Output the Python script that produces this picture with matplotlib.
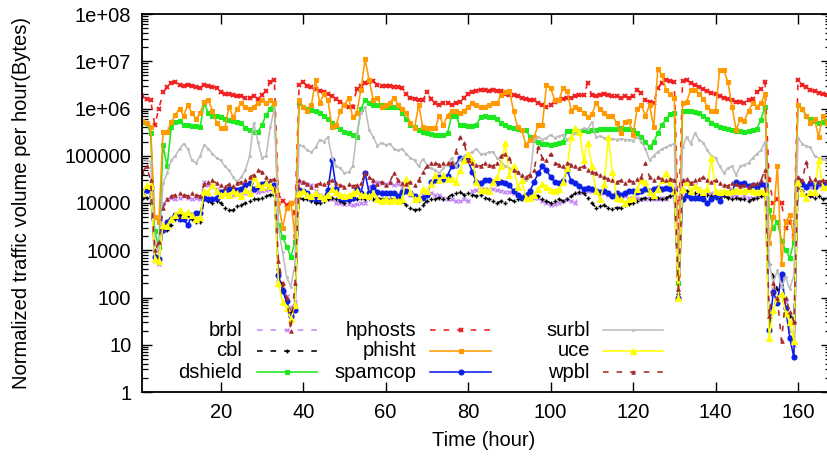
import matplotlib
matplotlib.use("Agg")
import matplotlib.pyplot as plt
from matplotlib.lines import Line2D
from matplotlib.ticker import LogLocator, FixedLocator, NullFormatter

plt.rcParams['font.family'] = ['Liberation Sans', 'DejaVu Sans']

hours = list(range(1, 168))

brbl = [
    1.8e4, 1.7e4, 1.5e4, 6.0e2, 5.2e2, 1.0e4, 1.2e4, 1.3e4, 1.2e4, 1.3e4,
    1.4e4, 1.3e4, 1.2e4, 1.3e4, 1.2e4, 2.8e4, 2.4e4, 2.2e4, 2.0e4, 1.8e4,
    1.6e4, 1.5e4, 1.5e4, 1.6e4, 1.5e4, 1.6e4, 1.7e4, 1.8e4, 1.7e4, 1.8e4,
    1.9e4, 2.0e4, 1.8e4, 2.5e2, 1.5e2, 1.1e2, 6.0e1, 8.0e1, 2.8e4, 2.8e4,
    2.5e4, 2.4e4, 1.8e4, 1.5e4, 1.3e4, 1.2e4, 1.2e4, 1.0e4, 1.0e4, 9.5e3,
    9.5e3, 9.0e3, 9.5e3, 1.0e4, 1.0e4, 2.2e4, 2.6e4, 2.8e4, 2.6e4, 2.5e4,
    2.6e4, 2.4e4, 2.5e4, 2.2e4, 1.7e4, 1.5e4, 1.4e4, 1.3e4, 1.5e4, 1.6e4,
    1.6e4, 1.5e4, 1.5e4, 1.3e4, 1.2e4, 1.2e4, 1.1e4, 1.1e4, 1.2e4, 1.1e4,
    1.8e4, 1.9e4, 2.0e4, 2.0e4, 1.9e4, 2.0e4, 1.9e4, 1.8e4, 1.7e4, 1.7e4,
    1.6e4, 1.5e4, 1.4e4, 1.4e4, 1.3e4, 1.3e4, 1.3e4, 1.1e4, 1.0e4, 9.0e3,
    9.5e3, 1.0e4, 1.1e4, 1.2e4, 1.1e4, 1.0e4, 1.6e4, 1.7e4, 1.8e4, 1.8e4,
    1.7e4, 1.8e4, 1.6e4, 1.5e4, 1.4e4, 1.4e4, 1.3e4, 1.4e4, 1.3e4, 1.3e4,
    1.3e4, 1.2e4, 1.2e4, 1.3e4, 1.2e4, 1.2e4, 1.3e4, 1.2e4, 1.4e4, 1.6e4,
    1.3e2, 3.0e4, 2.8e4, 2.6e4, 2.4e4, 2.0e4, 1.7e4, 1.6e4, 1.6e4, 1.5e4,
    1.5e4, 1.6e4, 1.5e4, 1.4e4, 1.4e4, 1.3e4, 1.4e4, 1.3e4, 1.3e4, 1.4e4,
    1.5e4, 1.6e4, 4.0e1, 1.5e2, 1.0e2, 2.5e2, 8.0e1, 2.0e1, 1.0e1, 3.0e4,
    2.6e4, 2.4e4, 2.2e4, 2.5e4, 2.3e4, 2.4e4, 2.2e4,
]

cbl = [
    1.2e4, 1.3e4, 1.4e4, 8.0e2, 7.0e2, 3.0e3, 2.7e3, 3.5e3, 4.5e3, 5.5e3,
    5.0e3, 5.5e3, 4.5e3, 4.0e3, 4.0e3, 1.2e4, 1.1e4, 1.0e4, 1.1e4, 1.0e4,
    8.0e3, 7.0e3, 7.0e3, 8.5e3, 9.0e3, 1.0e4, 1.1e4, 1.2e4, 1.2e4, 1.3e4,
    1.4e4, 1.5e4, 1.5e4, 4.0e2, 1.5e2, 8.0e1, 5.0e1, 7.0e1, 1.3e4, 1.2e4,
    1.2e4, 1.1e4, 1.0e4, 1.0e4, 1.1e4, 1.2e4, 1.3e4, 1.2e4, 1.1e4, 1.0e4,
    1.1e4, 1.2e4, 1.2e4, 1.3e4, 1.2e4, 1.3e4, 1.2e4, 1.3e4, 1.2e4, 1.3e4,
    1.2e4, 1.2e4, 1.3e4, 1.1e4, 9.0e3, 8.0e3, 7.0e3, 7.5e3, 9.0e3, 1.1e4,
    1.2e4, 1.2e4, 1.3e4, 1.2e4, 1.3e4, 1.5e4, 1.6e4, 1.7e4, 1.5e4, 1.6e4,
    1.5e4, 1.4e4, 1.5e4, 1.3e4, 1.2e4, 1.1e4, 1.0e4, 1.1e4, 1.0e4, 1.2e4,
    1.1e4, 1.2e4, 1.3e4, 1.5e4, 1.6e4, 1.5e4, 1.4e4, 1.2e4, 1.1e4, 1.0e4,
    1.1e4, 1.2e4, 1.1e4, 1.2e4, 1.4e4, 1.6e4, 1.7e4, 1.6e4, 1.3e4, 1.0e4,
    8.0e3, 8.5e3, 9.0e3, 8.0e3, 7.5e3, 8.0e3, 8.0e3, 9.0e3, 9.5e3, 1.0e4,
    1.1e4, 1.2e4, 1.3e4, 1.2e4, 1.3e4, 1.3e4, 1.2e4, 1.3e4, 1.4e4, 1.5e4,
    1.2e2, 2.0e4, 1.8e4, 1.7e4, 1.6e4, 1.5e4, 1.4e4, 1.5e4, 1.4e4, 1.3e4,
    1.3e4, 1.4e4, 1.3e4, 1.2e4, 1.3e4, 1.2e4, 1.2e4, 1.1e4, 1.2e4, 1.3e4,
    1.4e4, 1.5e4, 5.0e2, 2.8e2, 1.5e2, 1.2e2, 5.5e1, 4.0e1, 3.0e1, 2.2e4,
    1.8e4, 1.5e4, 1.4e4, 1.3e4, 1.4e4, 1.2e4, 1.3e4,
]

dshield = [
    5.2e5, 5.0e5, 3.0e5, 2.5e3, 1.2e3, 1.7e5, 6.0e4, 4.0e5, 5.2e5, 5.5e5,
    4.5e5, 4.5e5, 4.3e5, 4.2e5, 4.0e5, 1.3e6, 8.0e5, 7.0e5, 7.0e5, 6.5e5,
    6.0e5, 5.8e5, 5.5e5, 5.2e5, 5.0e5, 3.8e5, 3.5e5, 3.2e5, 3.2e5, 4.5e5,
    7.3e5, 1.0e6, 1.3e6, 3.5e3, 1.9e3, 1.2e3, 7.2e2, 1.5e3, 1.3e6, 1.1e6,
    1.0e6, 9.5e5, 9.0e5, 8.0e5, 7.0e5, 6.0e5, 5.0e5, 4.2e5, 3.6e5, 3.2e5,
    3.0e5, 2.7e5, 2.5e5, 1.0e6, 1.5e6, 1.3e6, 1.2e6, 1.2e6, 1.2e6, 1.1e6,
    1.1e6, 1.1e6, 1.1e6, 8.0e5, 6.0e5, 4.5e5, 4.0e5, 3.5e5, 3.2e5, 3.0e5,
    2.9e5, 2.8e5, 2.8e5, 2.7e5, 3.0e5, 7.0e5, 7.0e5, 4.5e5, 4.5e5, 4.3e5,
    4.3e5, 4.5e5, 6.5e5, 7.0e5, 6.5e5, 6.5e5, 6.0e5, 5.0e5, 4.5e5, 4.0e5,
    3.8e5, 3.6e5, 3.5e5, 3.5e5, 2.5e5, 2.2e5, 2.0e5, 1.8e5, 1.8e5, 1.7e5,
    1.8e5, 1.9e5, 2.0e5, 3.3e5, 3.3e5, 3.3e5, 3.4e5, 3.5e5, 3.4e5, 3.5e5,
    3.5e5, 3.6e5, 3.6e5, 3.7e5, 3.6e5, 3.7e5, 3.8e5, 3.6e5, 3.7e5, 3.5e5,
    3.0e5, 2.5e5, 2.0e5, 1.5e5, 2.0e5, 3.0e5, 4.5e5, 6.0e5, 7.5e5, 8.0e5,
    2.0e2, 9.0e5, 9.0e5, 8.8e5, 8.5e5, 8.0e5, 7.0e5, 6.0e5, 5.0e5, 4.5e5,
    4.0e5, 3.8e5, 3.7e5, 3.5e5, 3.4e5, 3.3e5, 3.2e5, 3.3e5, 3.5e5, 3.7e5,
    5.8e5, 1.1e6, 7.0e3, 3.0e3, 4.0e3, 1.6e3, 1.0e3, 7.0e2, 1.5e3, 1.2e6,
    1.0e6, 7.0e5, 6.0e5, 5.5e5, 5.0e5, 5.2e5, 5.5e5,
]

hphosts = [
    1.8e6, 1.6e6, 1.5e6, 4.5e5, 1.0e6, 2.2e6, 2.8e6, 3.4e6, 3.6e6, 3.2e6,
    3.0e6, 3.2e6, 3.0e6, 2.8e6, 2.7e6, 3.2e6, 3.0e6, 2.9e6, 2.7e6, 2.2e6,
    2.0e6, 2.0e6, 1.9e6, 1.8e6, 1.8e6, 1.7e6, 1.7e6, 1.8e6, 1.6e6, 1.9e6,
    2.4e6, 3.6e6, 4.0e6, 1.5e4, 1.1e4, 9.0e3, 1.0e4, 6.0e3, 3.1e6, 3.6e6,
    3.0e6, 2.8e6, 2.6e6, 2.4e6, 2.2e6, 2.0e6, 1.8e6, 1.6e6, 1.4e6, 1.2e6,
    1.1e6, 1.1e6, 2.6e6, 3.0e6, 3.4e6, 3.6e6, 3.8e6, 3.2e6, 3.0e6, 3.0e6,
    3.0e6, 2.9e6, 2.8e6, 2.7e6, 2.0e6, 1.7e6, 1.6e6, 1.5e6, 1.5e6, 2.2e6,
    1.6e6, 1.3e6, 1.2e6, 1.3e6, 1.3e6, 1.2e6, 1.3e6, 1.4e6, 1.7e6, 2.0e6,
    2.2e6, 2.4e6, 2.5e6, 2.5e6, 2.4e6, 2.5e6, 2.4e6, 2.3e6, 2.0e6, 1.9e6,
    1.9e6, 1.8e6, 1.7e6, 1.6e6, 1.5e6, 1.5e6, 1.3e6, 1.2e6, 1.1e6, 1.2e6,
    1.4e6, 1.5e6, 1.6e6, 1.7e6, 1.7e6, 1.8e6, 1.9e6, 1.9e6, 3.4e6, 1.9e6,
    1.8e6, 1.9e6, 2.0e6, 1.9e6, 1.8e6, 1.8e6, 1.7e6, 1.8e6, 1.7e6, 1.8e6,
    2.5e6, 2.1e6, 1.5e6, 1.4e6, 1.3e6, 2.7e6, 3.5e6, 4.0e6, 3.8e6, 3.6e6,
    3.0e3, 3.8e6, 4.0e6, 3.5e6, 3.2e6, 2.8e6, 2.6e6, 2.3e6, 2.1e6, 2.0e6,
    1.8e6, 1.7e6, 1.6e6, 1.5e6, 1.4e6, 1.4e6, 1.3e6, 1.5e6, 1.6e6, 2.2e6,
    2.6e6, 3.6e6, 3.0e4, 1.0e4, 1.2e4, 1.0e4, 3.0e3, 4.0e3, 2.0e3, 4.0e6,
    3.2e6, 2.8e6, 2.5e6, 2.3e6, 2.1e6, 2.0e6, 1.9e6,
]

phisht = [
    5.5e5, 5.0e5, 4.0e5, 5.0e3, 4.0e3, 3.2e5, 3.2e5, 5.2e5, 7.3e5, 1.0e6,
    7.0e5, 1.2e6, 8.0e5, 6.0e5, 8.0e5, 1.4e6, 1.5e6, 9.0e5, 5.0e5, 3.8e5,
    3.8e5, 1.1e6, 6.5e5, 1.0e6, 1.3e6, 1.1e6, 1.0e6, 1.1e6, 1.3e6, 1.5e6,
    1.3e6, 1.5e6, 1.3e6, 1.0e4, 3.0e3, 8.0e3, 1.0e4, 2.0e3, 1.5e6, 1.1e6,
    9.0e5, 1.2e6, 4.0e6, 1.3e6, 2.0e6, 1.5e6, 4.0e5, 4.5e5, 9.0e5, 1.2e6,
    1.7e6, 6.5e5, 8.0e5, 2.5e6, 1.1e7, 4.0e6, 1.5e6, 1.7e6, 1.1e6, 1.2e6,
    1.3e6, 1.7e6, 1.2e6, 1.0e6, 8.0e5, 5.0e5, 3.8e5, 1.2e6, 4.0e5, 3.8e5,
    3.8e5, 3.8e5, 7.0e5, 4.5e5, 7.0e5, 9.0e5, 9.0e5, 8.0e5, 9.0e5, 1.1e6,
    1.3e6, 1.2e6, 1.1e6, 1.1e6, 1.2e6, 1.3e6, 1.3e6, 1.9e6, 2.2e6, 2.4e6,
    9.0e5, 4.0e5, 3.5e5, 1.7e5, 2.2e5, 2.5e5, 4.5e5, 4.5e5, 3.1e6, 2.7e6,
    1.5e6, 1.5e6, 2.7e6, 2.4e6, 9.0e5, 1.1e6, 1.0e6, 8.0e5, 6.5e5, 7.5e5,
    1.3e6, 1.0e6, 8.0e5, 7.0e5, 7.0e5, 5.0e5, 3.0e5, 5.2e5, 5.5e5, 2.8e5,
    1.0e6, 1.2e6, 7.0e5, 1.2e6, 4.0e5, 7.0e6, 5.0e6, 2.5e6, 2.0e6, 1.7e6,
    3.0e2, 1.3e6, 1.4e6, 2.5e6, 2.5e6, 2.0e6, 1.6e6, 1.1e6, 9.0e5, 9.0e5,
    6.5e6, 6.5e6, 3.6e6, 1.1e6, 3.5e5, 6.0e5, 5.5e5, 9.0e5, 1.3e6, 1.1e6,
    1.3e6, 2.0e6, 1.4e3, 5.0e3, 6.0e4, 5.0e2, 4.0e3, 5.6e3, 1.8e3, 1.2e6,
    1.0e6, 7.0e5, 5.0e5, 6.0e5, 2.5e5, 7.0e5, 5.0e5,
]

spamcop = [
    1.5e4, 1.9e4, 2.1e4, 7.2e2, 6.5e2, 2.7e3, 4.0e3, 4.5e3, 5.5e3, 4.5e3,
    4.5e3, 3.4e3, 5.5e3, 6.2e3, 6.0e3, 1.3e4, 1.2e4, 1.2e4, 1.3e4, 1.7e4,
    1.8e4, 2.0e4, 2.0e4, 1.9e4, 2.0e4, 2.4e4, 2.6e4, 2.0e4, 2.2e4, 2.5e4,
    2.6e4, 2.2e4, 2.4e4, 3.0e2, 1.4e2, 8.5e1, 4.0e1, 5.5e1, 1.9e4, 1.8e4,
    1.6e4, 1.3e4, 1.2e4, 1.2e4, 1.3e4, 1.9e4, 8.0e4, 2.0e4, 1.3e4, 1.2e4,
    1.2e4, 1.3e4, 2.0e4, 1.6e4, 4.3e4, 1.6e4, 2.2e4, 1.7e4, 1.6e4, 1.6e4,
    1.6e4, 1.6e4, 1.4e4, 1.7e4, 1.8e4, 1.6e4, 1.4e4, 1.2e4, 1.3e4, 1.5e4,
    2.8e4, 3.0e4, 3.5e4, 3.2e4, 3.8e4, 6.0e4, 6.5e4, 9.0e4, 8.5e4, 8.0e4,
    4.5e4, 2.8e4, 2.6e4, 3.0e4, 3.0e4, 2.8e4, 2.6e4, 2.8e4, 2.6e4, 2.4e4,
    1.8e4, 1.5e4, 1.3e4, 1.5e4, 1.8e4, 2.8e4, 4.3e4, 6.0e4, 5.0e4, 3.5e4,
    2.8e4, 2.6e4, 2.9e4, 5.0e4, 2.9e4, 2.6e4, 2.3e4, 2.0e4, 2.1e4, 2.0e4,
    1.8e4, 1.7e4, 1.8e4, 1.6e4, 1.4e4, 1.6e4, 1.5e4, 1.6e4, 1.8e4, 1.8e4,
    1.7e4, 1.8e4, 2.0e4, 1.8e4, 2.0e4, 2.1e4, 2.0e4, 2.1e4, 2.0e4, 1.9e4,
    1.0e2, 1.2e4, 1.5e4, 1.3e4, 1.3e4, 1.3e4, 1.2e4, 1.0e4, 1.2e4, 1.4e4,
    1.1e4, 1.6e4, 1.6e4, 1.8e4, 2.8e4, 2.5e4, 2.6e4, 2.3e4, 2.4e4, 2.2e4,
    2.5e4, 2.4e4, 2.1e1, 1.3e2, 7.5e1, 3.2e2, 6.0e1, 1.4e1, 5.4e0, 3.0e4,
    2.5e4, 2.2e4, 2.7e4, 2.2e4, 2.6e4, 2.7e4, 2.5e4,
]

surbl = [
    8.2e4, 8.2e4, 7.5e4, 1.5e3, 9.0e2, 2.6e4, 4.3e4, 8.0e4, 1.0e5, 1.4e5,
    1.8e5, 1.4e5, 8.0e4, 7.0e4, 1.0e5, 1.7e5, 1.4e5, 1.1e5, 9.0e4, 8.0e4,
    6.0e4, 5.0e4, 3.5e4, 2.8e4, 3.5e4, 5.0e4, 1.0e5, 5.0e5, 2.0e5, 9.0e4,
    1.0e5, 4.0e5, 1.0e6, 3.0e3, 9.0e2, 2.7e2, 1.7e2, 5.0e2, 1.7e5, 1.6e5,
    1.3e5, 1.2e5, 1.5e5, 2.2e5, 2.0e5, 2.5e5, 9.0e4, 6.0e4, 5.5e4, 4.3e4,
    4.5e4, 6.0e4, 3.0e5, 8.0e5, 1.1e6, 3.5e5, 2.5e5, 1.6e5, 1.9e5, 1.7e5,
    1.8e5, 1.4e5, 1.3e5, 1.4e5, 1.1e5, 9.0e4, 8.0e4, 6.0e4, 8.5e4, 6.5e4,
    5.5e4, 5.0e4, 4.3e4, 5.5e4, 6.5e4, 9.0e4, 6.0e4, 8.0e4, 1.0e5, 1.1e5,
    1.2e5, 1.4e5, 1.1e5, 1.1e5, 1.2e5, 1.2e5, 9.0e4, 7.5e4, 6.0e4, 5.5e4,
    5.0e4, 4.5e4, 3.5e4, 3.0e4, 3.5e4, 2.2e5, 2.5e5, 2.2e5, 2.4e5, 2.8e5,
    2.4e5, 2.6e5, 2.8e5, 2.2e5, 2.5e5, 3.0e5, 3.4e5, 3.8e5, 3.6e5, 5.2e5,
    2.5e5, 2.6e5, 2.4e5, 2.3e5, 2.3e5, 2.2e5, 2.3e5, 2.2e5, 2.2e5, 2.1e5,
    2.5e5, 2.0e5, 1.4e5, 8.0e4, 1.0e5, 1.2e5, 1.4e5, 1.5e5, 1.7e5, 1.8e5,
    1.5e2, 1.5e5, 2.5e5, 1.8e5, 3.0e5, 2.2e5, 1.9e5, 1.3e5, 1.0e5, 9.0e4,
    6.0e4, 4.3e4, 5.5e4, 6.0e4, 3.9e4, 6.0e4, 6.5e4, 7.0e4, 9.0e4, 1.1e5,
    1.3e5, 2.0e5, 5.2e2, 2.0e2, 3.8e2, 1.7e2, 2.7e2, 1.5e2, 3.0e2, 2.4e5,
    1.8e5, 1.6e5, 1.5e5, 1.0e5, 9.0e4, 8.5e4, 8.0e4,
]

uce = [
    1.6e4, 2.4e4, 2.3e4, 6.5e2, 5.8e2, 3.4e3, 3.2e3, 4.5e3, 5.6e3, 7.0e3,
    5.5e3, 6.5e3, 5.5e3, 4.5e3, 5.0e3, 1.8e4, 1.7e4, 2.4e4, 1.8e4, 1.5e4,
    1.6e4, 1.5e4, 1.8e4, 1.6e4, 1.4e4, 1.9e4, 1.6e4, 3.5e4, 2.5e4, 2.2e4,
    2.6e4, 2.3e4, 2.0e4, 2.0e2, 8.0e1, 6.0e1, 3.5e1, 7.0e1, 1.6e4, 1.8e4,
    1.5e4, 1.4e4, 1.6e4, 1.4e4, 1.3e4, 1.5e4, 2.0e4, 1.7e4, 1.5e4, 1.4e4,
    1.5e4, 1.6e4, 1.8e4, 1.5e4, 1.5e4, 1.4e4, 1.6e4, 1.2e4, 1.1e4, 1.2e4,
    1.1e4, 1.2e4, 1.1e4, 1.2e4, 3.3e4, 1.7e4, 1.2e4, 1.3e4, 2.0e4, 1.8e4,
    2.5e4, 3.9e4, 3.0e4, 3.9e4, 3.2e4, 3.3e4, 2.8e4, 5.0e4, 8.0e4, 1.1e5,
    8.0e4, 2.8e4, 1.9e4, 1.9e4, 1.8e4, 2.8e4, 3.5e4, 6.0e4, 1.9e5, 4.0e4,
    6.0e4, 2.2e4, 3.0e4, 1.3e4, 1.3e4, 1.5e4, 2.0e4, 2.5e4, 2.2e4, 1.9e4,
    1.8e4, 2.0e4, 2.8e4, 5.5e4, 2.5e5, 3.8e5, 3.2e5, 8.0e4, 1.9e5, 6.0e4,
    1.8e4, 1.2e4, 2.5e4, 2.5e5, 4.5e4, 1.3e4, 1.2e4, 1.0e4, 1.2e4, 1.3e4,
    2.0e4, 3.0e4, 2.8e4, 1.7e4, 1.5e4, 2.0e4, 3.0e4, 4.3e4, 2.8e4, 1.8e4,
    1.0e2, 2.0e4, 2.8e4, 1.8e4, 2.3e4, 2.0e4, 1.7e4, 2.0e4, 9.0e4, 1.8e4,
    1.7e4, 1.8e4, 1.7e4, 1.8e4, 1.9e4, 1.8e4, 1.8e4, 2.0e4, 1.8e4, 1.7e4,
    1.8e4, 1.7e4, 1.4e1, 5.5e1, 1.0e2, 1.2e2, 4.8e1, 3.0e1, 1.2e1, 2.8e4,
    1.6e4, 1.3e4, 1.7e4, 1.7e4, 8.0e4, 2.2e4, 2.2e4,
]

wpbl = [
    4.5e4, 6.0e4, 3.0e4, 1.0e3, 1.5e3, 8.0e3, 1.2e4, 1.4e4, 1.5e4, 1.6e4,
    1.5e4, 1.4e4, 1.6e4, 1.5e4, 1.4e4, 2.5e4, 2.8e4, 3.0e4, 2.6e4, 2.4e4,
    2.2e4, 2.5e4, 2.3e4, 2.6e4, 2.8e4, 3.0e4, 3.5e4, 4.0e4, 5.0e4, 4.5e4,
    3.5e4, 3.0e4, 3.2e4, 6.0e2, 2.0e2, 1.0e2, 2.0e1, 2.0e2, 3.0e4, 2.8e4,
    2.5e4, 2.2e4, 2.4e4, 2.6e4, 2.5e4, 2.8e4, 3.0e4, 2.7e4, 2.4e4, 2.2e4,
    2.5e4, 2.3e4, 2.4e4, 2.6e4, 4.3e4, 3.5e4, 3.0e4, 2.5e4, 2.8e4, 2.4e4,
    2.8e4, 4.3e4, 3.0e4, 2.6e4, 2.5e4, 2.8e4, 2.4e4, 3.0e4, 4.5e4, 6.0e4,
    7.0e4, 7.0e4, 6.5e4, 7.0e4, 7.0e4, 7.0e4, 1.2e5, 2.5e5, 1.9e5, 8.0e4,
    7.0e4, 6.5e4, 6.0e4, 7.0e4, 6.5e4, 6.0e4, 7.0e4, 1.0e5, 1.1e5, 9.0e4,
    5.0e4, 4.5e4, 4.0e4, 3.5e4, 4.0e4, 5.0e4, 1.5e5, 9.0e4, 8.0e4, 1.1e5,
    7.0e4, 6.5e4, 6.0e4, 7.0e4, 6.5e4, 6.0e4, 5.5e4, 6.0e4, 5.0e4, 4.5e4,
    4.3e4, 4.0e4, 3.5e4, 3.2e4, 3.0e4, 2.8e4, 3.0e4, 2.6e4, 3.0e4, 2.8e4,
    3.2e4, 3.5e4, 7.0e4, 3.5e4, 3.0e4, 3.5e4, 3.2e4, 3.0e4, 3.3e4, 3.0e4,
    1.5e2, 3.0e4, 3.2e4, 2.6e4, 3.0e4, 3.2e4, 3.5e4, 3.0e4, 2.8e4, 3.0e4,
    2.7e4, 2.4e4, 2.3e4, 2.6e4, 2.5e4, 2.3e4, 2.4e4, 2.2e4, 2.5e4, 2.6e4,
    3.0e4, 5.0e4, 4.0e1, 2.0e2, 1.0e2, 1.2e1, 1.0e2, 5.0e1, 3.0e1, 3.5e4,
    3.0e4, 7.5e4, 3.0e4, 3.2e4, 2.8e4, 3.0e4, 2.9e4,
]

x_ticks = [20, 40, 60, 80, 100, 120, 140, 160]
y_ticks = [1, 10, 100, 1000, 10000, 100000, 1e6, 1e7, 1e8]
y_tick_labels = ["1", "10", "100", "1000", "10000", "100000",
                 "1e+06", "1e+07", "1e+08"]

# name, values, color, linestyle, marker, marker size, marker edge width
series = [
    ("brbl", brbl, "#c68cf4", "dash", "x", 2.8, 1.0),
    ("cbl", cbl, "#000000", "dash", "+", 3.2, 1.0),
    ("dshield", dshield, "#1ee81e", "solid", "s", 2.8, 0.8),
    ("hphosts", hphosts, "#f01c1c", "dash", "x", 2.8, 1.4),
    ("phisht", phisht, "#ff9a00", "solid", "s", 2.8, 0.8),
    ("spamcop", spamcop, "#0a1ee6", "solid", "o", 3.6, 0.8),
    ("surbl", surbl, "#bdbdbd", "solid", "o", 1.6, 0.6),
    ("uce", uce, "#ffff00", "solid", "^", 4.0, 0.8),
    ("wpbl", wpbl, "#a52a2a", "dash", "^", 2.6, 0.6),
]

W, H = 827, 462
fig = plt.figure(figsize=(W / 100, H / 100), dpi=100)
ax_left, ax_right, ax_top, ax_bottom = 142.4, 831.0, 14.0, 392.0
ax = fig.add_axes([ax_left / W, 1 - ax_bottom / H,
                   (ax_right - ax_left) / W, (ax_bottom - ax_top) / H])

LW = 1.15
DASH = (0, (3.5, 5.0))


def style(ls):
    return DASH if ls == "dash" else "-"


for name, vals, color, ls, mk, ms, mew in series:
    ax.plot(hours, vals, color=color, linestyle=style(ls), linewidth=LW,
            marker=mk, markersize=ms, markeredgewidth=mew,
            markerfacecolor=color, markeredgecolor=color)

ax.set_yscale("log")
ax.set_xlim(1, 168)
ax.set_ylim(1, 1e8)

ax.xaxis.set_major_locator(FixedLocator(x_ticks))
ax.set_xticklabels([str(t) for t in x_ticks])
ax.yaxis.set_major_locator(FixedLocator(y_ticks))
ax.set_yticklabels(y_tick_labels)
ax.yaxis.set_minor_locator(LogLocator(base=10, subs=(2, 3, 4, 5, 6, 7, 8, 9)))
ax.yaxis.set_minor_formatter(NullFormatter())
ax.xaxis.set_minor_locator(FixedLocator([]))

FS = 14.5
ax.tick_params(axis="both", which="both", direction="in",
               top=True, right=True, labelsize=FS, colors="black")
ax.tick_params(axis="both", which="major", length=7, width=1.0)
ax.tick_params(axis="y", which="minor", length=4, width=0.9)
ax.tick_params(axis="y", which="major", pad=8)
ax.tick_params(axis="x", which="major", pad=8)

for sp in ax.spines.values():
    sp.set_linewidth(1.3)
    sp.set_color("black")

fig.text(484 / W, 1 - 441 / H, "Time (hour)", fontsize=FS,
         ha="center", va="center")
fig.text(22 / W, 1 - 203 / H, "Normalized traffic volume per hour(Bytes)",
         fontsize=FS, rotation=90, ha="center", va="center")

# key, laid out in three columns with the sample to the right of each name
key_cols = [(242, 257, 317), (416, 430, 491), (590, 603, 663)]
key_rows = [330, 351, 372]
for i, (name, vals, color, ls, mk, ms, mew) in enumerate(series):
    col, row = divmod(i, 3)
    tx, lx0, lx1 = key_cols[col]
    ty = key_rows[row]
    fig.text(tx / W, 1 - ty / H, name, fontsize=FS, ha="right",
             va="center")
    fig.add_artist(Line2D([lx0 / W, lx1 / W], [1 - ty / H, 1 - ty / H],
                          transform=fig.transFigure, color=color,
                          linestyle=style(ls), linewidth=LW))
    fig.add_artist(Line2D([(lx0 + lx1) / 2 / W], [1 - ty / H],
                          transform=fig.transFigure, color=color,
                          linestyle="none", marker=mk, markersize=ms,
                          markeredgewidth=mew, markerfacecolor=color,
                          markeredgecolor=color))

fig.savefig("out.png", dpi=100)
